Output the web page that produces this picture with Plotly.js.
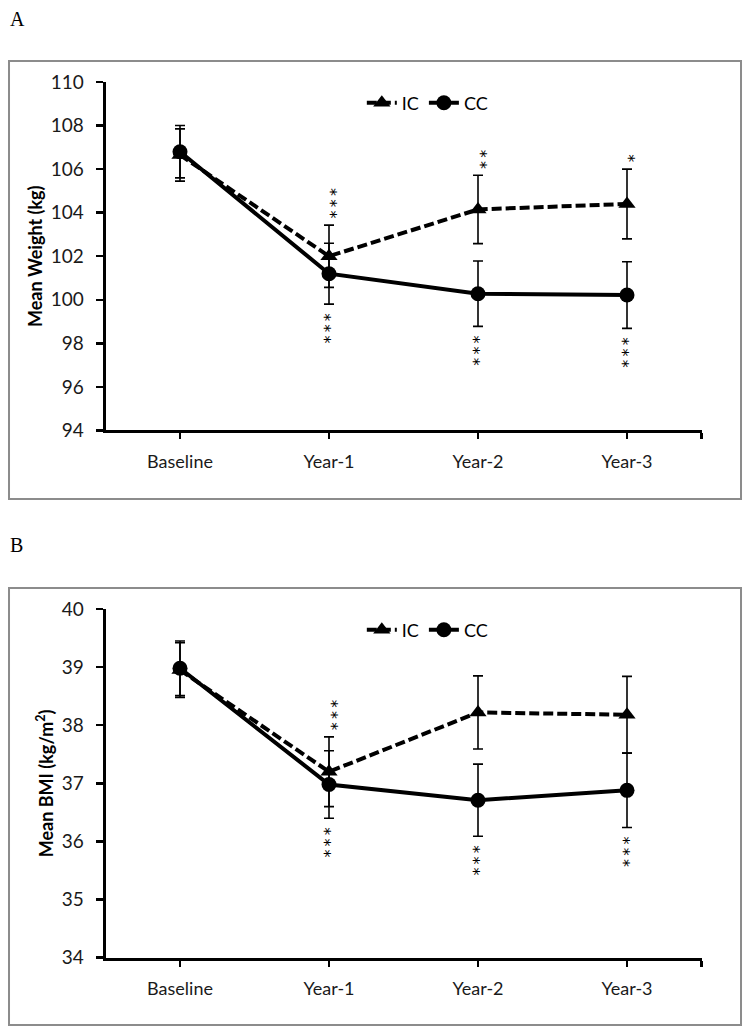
<!DOCTYPE html>
<html>
<head>
<meta charset="utf-8">
<script src="https://cdn.plot.ly/plotly-3.0.1.min.js"></script>
<style>html,body{margin:0;padding:0;background:#fff;}#chart{width:751px;height:1036px;}</style>
</head>
<body>
<div id="chart"></div>
<script>
// ---- data ----
const categories = ['Baseline', 'Year-1', 'Year-2', 'Year-3'];

const weightIC    = [106.65, 102.0, 104.15, 104.4];
const weightICErr = [1.2, 1.43, 1.57, 1.6];
const weightCC    = [106.8, 101.2, 100.28, 100.22];
const weightCCErr = [1.2, 1.4, 1.5, 1.53];

const bmiIC    = [38.95, 37.2, 38.22, 38.18];
const bmiICErr = [0.47, 0.6, 0.63, 0.66];
const bmiCC    = [38.98, 36.98, 36.71, 36.88];
const bmiCCErr = [0.47, 0.58, 0.62, 0.64];

const weightSigIC = ['', '***', '**', '*'];
const weightSigCC = ['', '***', '***', '***'];
const bmiSigIC    = ['', '***', '', ''];
const bmiSigCC    = ['', '***', '***', '***'];

const weightTicks = [94, 96, 98, 100, 102, 104, 106, 108, 110];
const bmiTicks    = [34, 35, 36, 37, 38, 39, 40];

// ---- helpers ----
const xIdx = categories.map((_, i) => i);
const FONT = 'Lato, "Open Sans", sans-serif';

function icTrace(y, err, xa, ya, legend) {
  return {
    x: xIdx, y: y, xaxis: xa, yaxis: ya, legend: legend, name: 'IC',
    type: 'scatter', mode: 'lines+markers',
    line: {color: '#000', width: 4, dash: '10px,4px'},
    marker: {symbol: 'triangle-up', size: 15, color: '#000'},
    error_y: {type: 'data', array: err, visible: true, color: '#000', thickness: 1.6, width: 5},
    hoverinfo: 'skip'
  };
}
function ccTrace(y, err, xa, ya, legend) {
  return {
    x: xIdx, y: y, xaxis: xa, yaxis: ya, legend: legend, name: 'CC',
    type: 'scatter', mode: 'lines+markers',
    line: {color: '#000', width: 4},
    marker: {symbol: 'circle', size: 15, color: '#000'},
    error_y: {type: 'data', array: err, visible: true, color: '#000', thickness: 1.6, width: 5},
    hoverinfo: 'skip'
  };
}

const data = [
  icTrace(weightIC, weightICErr, 'x', 'y', 'legend'),
  ccTrace(weightCC, weightCCErr, 'x', 'y', 'legend'),
  icTrace(bmiIC, bmiICErr, 'x2', 'y2', 'legend2'),
  ccTrace(bmiCC, bmiCCErr, 'x2', 'y2', 'legend2')
];

// significance stars drawn as a vertical (rotated) string
function sigAnnotations(sig, vals, errs, above, xref, yref) {
  const out = [];
  sig.forEach((s, i) => {
    if (!s) return;
    out.push({
      x: i, y: above ? vals[i] + errs[i] : vals[i] - errs[i],
      xref: xref, yref: yref, showarrow: false,
      text: s.split('').join('\u2009'),
      textangle: 90,
      yanchor: above ? 'bottom' : 'top',
      xanchor: 'center',
      xshift: above ? 2 : -4,
      yshift: above ? 6 : -8,
      borderpad: 0,
      font: {family: '"DejaVu Sans", sans-serif', size: 16, color: '#000'}
    });
  });
  return out;
}

const xDomain = [0.14048, 0.93409];
const xEnd = xIdx.length - 0.5;

function xAxis(anchor) {
  return {
    domain: xDomain, anchor: anchor, range: [-0.5, xEnd],
    tickmode: 'array', tickvals: xIdx, ticktext: categories,
    ticks: 'outside', ticklen: 6, tickwidth: 2.5, tickcolor: '#000',
    minor: {tickmode: 'array', tickvals: [xEnd], ticks: 'outside', ticklen: 6, tickwidth: 2.5, tickcolor: '#000', showgrid: false},
    showline: true, linecolor: '#000', linewidth: 3,
    showgrid: false, zeroline: false, ticklabelstandoff: 7,
    tickfont: {family: FONT, size: 18, color: '#1a1a1a'}
  };
}
function xOverlay(over, anchor) {
  return {
    domain: xDomain, anchor: anchor, overlaying: over, range: [-0.5, xEnd],
    tickmode: 'array', tickvals: xIdx.concat([xEnd]), showticklabels: false,
    ticks: 'inside', ticklen: 6, tickwidth: 2.5, tickcolor: '#000',
    showline: false, showgrid: false, zeroline: false
  };
}
function yAxis(domain, anchor, range, ticks, title) {
  return {
    domain: domain, anchor: anchor, range: range,
    tickmode: 'array', tickvals: ticks,
    ticks: 'outside', ticklen: 7, tickwidth: 2.5, tickcolor: '#000',
    showline: true, linecolor: '#000', linewidth: 3,
    showgrid: false, zeroline: false, ticklabelstandoff: 8,
    tickfont: {family: FONT, size: 19, color: '#1a1a1a'},
    title: {text: title, font: {family: FONT, size: 18, color: '#000', weight: 'bold'}, standoff: 4}
  };
}

const boxLine = {color: '#8c8c8c', width: 2};

const layout = {
  width: 751, height: 1036,
  margin: {l: 0, r: 0, t: 0, b: 0},
  paper_bgcolor: '#fff', plot_bgcolor: 'rgba(0,0,0,0)',
  xaxis: xAxis('y'),
  xaxis2: xAxis('y2'),
  xaxis3: xOverlay('x', 'y'),
  xaxis4: xOverlay('x2', 'y2'),
  yaxis: yAxis([0.58446, 0.92085], 'x', [94, 110], weightTicks, '<b>Mean Weight (kg)</b>'),
  yaxis2: yAxis([0.07558, 0.41216], 'x2', [34, 40], bmiTicks, '<b>Mean BMI (kg/m<sup>2</sup>)</b>'),
  showlegend: true,
  legend: {orientation: 'h', x: 0.569, y: 0.9006, xanchor: 'center', yanchor: 'middle',
           font: {family: FONT, size: 18, color: '#000'}, bgcolor: 'rgba(0,0,0,0)'},
  legend2: {orientation: 'h', x: 0.569, y: 0.3919, xanchor: 'center', yanchor: 'middle',
           font: {family: FONT, size: 18, color: '#000'}, bgcolor: 'rgba(0,0,0,0)'},
  shapes: [
    {type: 'rect', xref: 'paper', yref: 'paper', x0: 0.012, x1: 0.9867, y0: 0.51834, y1: 0.94112, line: boxLine, layer: 'below'},
    {type: 'rect', xref: 'paper', yref: 'paper', x0: 0.012, x1: 0.9867, y0: 0.01062, y1: 0.43243, line: boxLine, layer: 'below'}
  ],
  annotations: [
    {text: 'A', xref: 'paper', yref: 'paper', x: 0.0107, y: 0.9821, xanchor: 'left', yanchor: 'middle', showarrow: false,
     font: {family: '"Liberation Serif", "Times New Roman", serif', size: 20, color: '#000'}},
    {text: 'B', xref: 'paper', yref: 'paper', x: 0.0107, y: 0.4739, xanchor: 'left', yanchor: 'middle', showarrow: false,
     font: {family: '"Liberation Serif", "Times New Roman", serif', size: 20, color: '#000'}}
  ]
    .concat(sigAnnotations(weightSigIC, weightIC, weightICErr, true, 'x', 'y'))
    .concat(sigAnnotations(weightSigCC, weightCC, weightCCErr, false, 'x', 'y'))
    .concat(sigAnnotations(bmiSigIC, bmiIC, bmiICErr, true, 'x2', 'y2'))
    .concat(sigAnnotations(bmiSigCC, bmiCC, bmiCCErr, false, 'x2', 'y2'))
};

Plotly.newPlot('chart', data, layout, {displayModeBar: false, staticPlot: true});
</script>
</body>
</html>
